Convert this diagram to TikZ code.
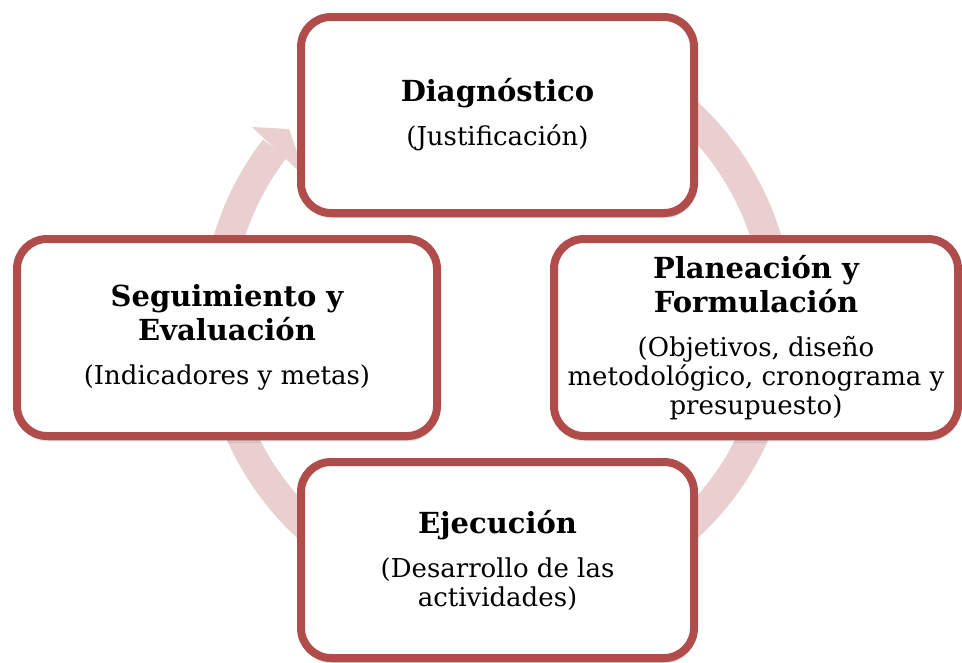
\documentclass[tikz,border=0pt]{standalone}
\usepackage{fontspec}
\setmainfont{DejaVu Serif}
\usepackage{xcolor}
\usepackage{tikz}
\usetikzlibrary{positioning, arrows.meta, shadows.blur}

\definecolor{boxred}{RGB}{176,76,74}
\definecolor{ringpink}{RGB}{233,207,208}
\newcommand{\steptitle}[1]{{\fontsize{29}{33}\selectfont\bfseries #1}}

\begin{document}
\begin{tikzpicture}[x=1pt, y=1pt,
    every node/.style={draw=boxred, line width=8pt, fill=white, rectangle, rounded corners=30pt, align=center,
        font=\fontsize{26}{29}\selectfont,
        blur shadow={shadow xshift=1pt, shadow yshift=-4pt, shadow blur steps=6, shadow opacity=35}}]
    \useasboundingbox (0,0) rectangle (962,-662);

    % Ring
    \coordinate (ringc) at (497.5,-320);
    \draw[ringpink, line width=30pt]
        (ringc) ++(80:281pt) arc[start angle=80, end angle=-217.6, radius=281pt];
    \fill[ringpink] (252,-127) -- (289,-129) -- (306,-178) -- cycle;

    % Nodes
    \node[minimum width=393pt, minimum height=196pt] (diag) at (497.5,-115)
        {\steptitle{Diagnóstico}\\[15pt] (Justificación)};
    \node[minimum width=404pt, minimum height=197pt] (plan) at (756,-337.5)
        {\steptitle{Planeación y}\\[3pt] \steptitle{Formulación}\\[15pt] (Objetivos, diseño\\ metodológico, cronograma y\\ presupuesto)};
    \node[minimum width=420pt, minimum height=197pt] (seg) at (227,-337.5)
        {\steptitle{Seguimiento y}\\[3pt] \steptitle{Evaluación}\\[15pt] (Indicadores y metas)};
    \node[minimum width=393pt, minimum height=196pt] (ejec) at (497.5,-560)
        {\steptitle{Ejecución}\\[15pt] (Desarrollo de las\\ actividades)};
\end{tikzpicture}
\end{document}
